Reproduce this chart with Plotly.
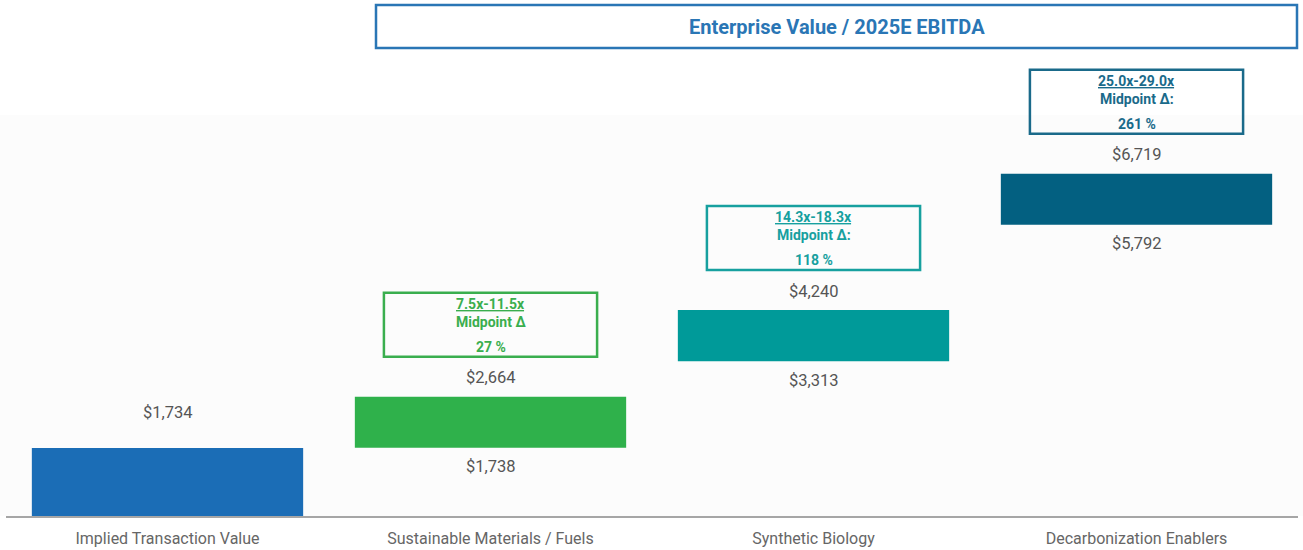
import plotly.graph_objects as go

# ---- data ----
categories = [
    "Implied Transaction Value",
    "Sustainable Materials / Fuels",
    "Synthetic Biology",
    "Decarbonization Enablers",
]
low_values = [None, 1738, 3313, 5792]
high_values = [1734, 2664, 4240, 6719]
multiple_ranges = [None, "7.5x-11.5x", "14.3x-18.3x", "25.0x-29.0x"]
midpoint_labels = [None, "Midpoint Δ", "Midpoint Δ:", "Midpoint Δ:"]
midpoint_deltas = [None, 27, 118, 261]

bar_colors = ["#1b6db6", "#2fb14b", "#009a99", "#036081"]
box_colors = [None, "#3aae4e", "#17a09f", "#1a6a8a"]
title_color = "#2a76b5"

# ---- layout geometry ----
H, W = 550, 1303
top_m, bot_m, left_m, right_m = 0, 34, 6, 5
plot_h = H - top_m - bot_m
ppu = 401 / 7284  # pixels per unit
y_min = 500
y_max = y_min + plot_h / ppu


def up(value, px):
    """Value shifted upward by px pixels."""
    return value + px / ppu


def paper_y(px_from_top):
    return (H - bot_m - px_from_top) / plot_h


def paper_x(px_from_left):
    return (px_from_left - left_m) / (W - left_m - right_m)


font_family = "Roboto, 'Open Sans', Arial, sans-serif"

fig = go.Figure()

bases = [lo if lo is not None else 0 for lo in low_values]
fig.add_trace(go.Bar(
    x=categories,
    y=[hi - b for hi, b in zip(high_values, bases)],
    base=bases,
    marker=dict(color=bar_colors, line=dict(width=0)),
    width=0.84,
    hoverinfo="skip",
))

annotations = []
shapes = []

# faint panel behind the bars
shapes.append(dict(
    type="rect", xref="paper", yref="paper", layer="below",
    x0=paper_x(0), x1=paper_x(W), y0=0, y1=paper_y(115),
    line=dict(width=0), fillcolor="#fcfcfc",
))

for i, cat in enumerate(categories):
    hi = high_values[i]
    lo = low_values[i]
    # value above the bar
    annotations.append(dict(
        x=i, y=hi, xref="x", yref="y",
        text=f"${hi:,}", showarrow=False,
        yanchor="middle", yshift=36 if lo is None else 19,
        font=dict(family=font_family, size=16.5, color="#555555"),
    ))
    if lo is not None:
        # value below the bar
        annotations.append(dict(
            x=i, y=lo, xref="x", yref="y",
            text=f"${lo:,}", showarrow=False,
            yanchor="middle", yshift=-19,
            font=dict(family=font_family, size=16.5, color="#555555"),
        ))
    if multiple_ranges[i] is not None:
        c = box_colors[i]
        box_bottom = up(hi, 40)
        box_top = up(hi, 104)
        shapes.append(dict(
            type="rect", xref="x", yref="y",
            x0=i - 0.33, x1=i + 0.33, y0=box_bottom, y1=box_top,
            line=dict(color=c, width=2.5), fillcolor="rgba(255,255,255,0)",
        ))
        lines = [
            (f"<u>{multiple_ranges[i]}</u>", 11),
            (midpoint_labels[i], 29),
            (f"{midpoint_deltas[i]} %", 54),
        ]
        for txt, off in lines:
            annotations.append(dict(
                x=i, y=box_top, xref="x", yref="y",
                text=f"<b>{txt}</b>", showarrow=False,
                yanchor="middle", yshift=-off,
                font=dict(family=font_family, size=14, color=c),
            ))

# header box
hdr_y0, hdr_y1 = paper_y(48), paper_y(5)
hdr_x0, hdr_x1 = paper_x(376), paper_x(1297)
shapes.append(dict(
    type="rect", xref="paper", yref="paper",
    x0=hdr_x0, x1=hdr_x1, y0=hdr_y0, y1=hdr_y1,
    line=dict(color=title_color, width=2.5), fillcolor="white",
))
annotations.append(dict(
    x=(hdr_x0 + hdr_x1) / 2, y=(hdr_y0 + hdr_y1) / 2,
    xref="paper", yref="paper",
    text="<b>Enterprise Value / 2025E EBITDA</b>", showarrow=False,
    xanchor="center", yanchor="middle",
    font=dict(family=font_family, size=20, color=title_color),
))

fig.update_layout(
    width=W, height=H,
    margin=dict(l=left_m, r=right_m, t=top_m, b=bot_m, pad=0),
    paper_bgcolor="white",
    plot_bgcolor="rgba(0,0,0,0)",
    showlegend=False,
    shapes=shapes,
    annotations=annotations,
    xaxis=dict(
        showgrid=False, zeroline=False,
        showline=True, linecolor="#a6a6a6", linewidth=2,
        ticks="outside", ticklen=7, tickcolor="rgba(0,0,0,0)",
        tickfont=dict(family=font_family, size=16, color="#666666"),
        fixedrange=True,
    ),
    yaxis=dict(
        range=[y_min, y_max], visible=False, showgrid=False, zeroline=False,
        fixedrange=True,
    ),
)

fig.write_html("out.html", config={"displayModeBar": False})
